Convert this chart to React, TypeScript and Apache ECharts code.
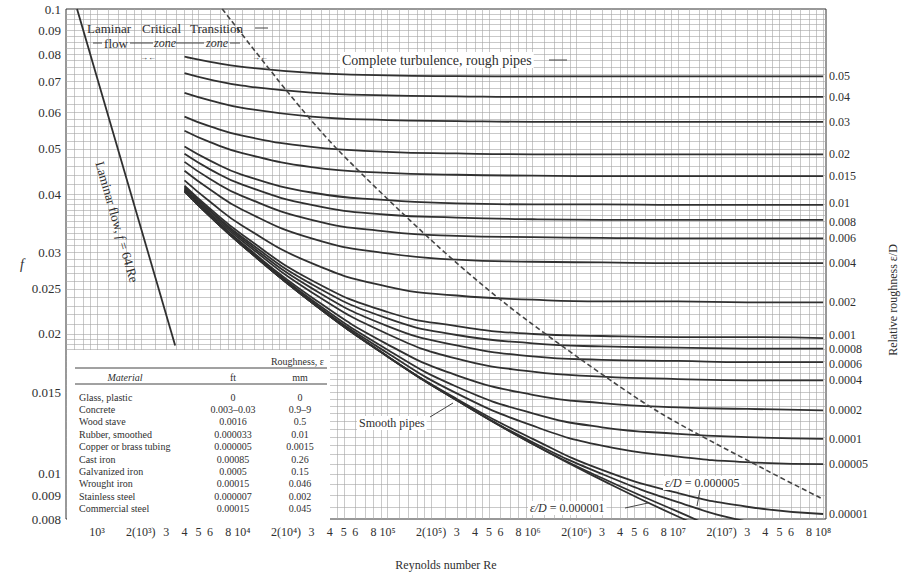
import React, { useEffect, useRef } from 'react';
import * as echarts from 'echarts';

// ---------- data ----------
const reynolds = [4000, 6000, 1e4, 3e4, 1e5, 3e5, 1e6, 3e6, 1e7, 3e7, 1e8];

const f_0_05 = [0.0790, 0.0770, 0.0751, 0.0729, 0.0720, 0.0717, 0.0716, 0.0716, 0.0716, 0.0716, 0.0716];
const f_0_04 = [0.0728, 0.0705, 0.0684, 0.0661, 0.0652, 0.0649, 0.0647, 0.0647, 0.0647, 0.0647, 0.0647];
const f_0_03 = [0.0660, 0.0636, 0.0613, 0.0587, 0.0577, 0.0574, 0.0572, 0.0572, 0.0572, 0.0572, 0.0572];
const f_0_02 = [0.0587, 0.0559, 0.0534, 0.0505, 0.0493, 0.0489, 0.0487, 0.0487, 0.0487, 0.0487, 0.0487];
const f_0_015 = [0.0547, 0.0517, 0.0490, 0.0457, 0.0444, 0.0440, 0.0438, 0.0437, 0.0437, 0.0437, 0.0437];
const f_0_01 = [0.0506, 0.0472, 0.0440, 0.0403, 0.0388, 0.0382, 0.0380, 0.0380, 0.0379, 0.0379, 0.0379];
const f_0_008 = [0.0488, 0.0452, 0.0419, 0.0379, 0.0361, 0.0356, 0.0353, 0.0352, 0.0352, 0.0352, 0.0352];
const f_0_006 = [0.0469, 0.0431, 0.0396, 0.0352, 0.0332, 0.0325, 0.0323, 0.0322, 0.0321, 0.0321, 0.0321];
const f_0_004 = [0.0449, 0.0409, 0.0370, 0.0321, 0.0298, 0.0289, 0.0286, 0.0285, 0.0284, 0.0284, 0.0284];
const f_0_002 = [0.0428, 0.0385, 0.0342, 0.0284, 0.0253, 0.0242, 0.0237, 0.0235, 0.0235, 0.0234, 0.0234];
const f_0_001 = [0.0417, 0.0372, 0.0327, 0.0261, 0.0223, 0.0208, 0.0200, 0.0198, 0.0197, 0.0197, 0.0196];
const f_0_0008 = [0.0415, 0.0369, 0.0323, 0.0256, 0.0216, 0.0199, 0.0191, 0.0188, 0.0187, 0.0186, 0.0186];
const f_0_0006 = [0.0412, 0.0367, 0.0320, 0.0251, 0.0208, 0.0189, 0.0179, 0.0176, 0.0175, 0.0174, 0.0174];
const f_0_0004 = [0.0410, 0.0364, 0.0317, 0.0246, 0.0200, 0.0177, 0.0166, 0.0162, 0.0160, 0.0159, 0.0159];
const f_0_0002 = [0.0408, 0.0361, 0.0313, 0.0240, 0.0190, 0.0163, 0.0148, 0.0142, 0.0139, 0.0138, 0.0137];
const f_0_0001 = [0.0407, 0.0360, 0.0312, 0.0237, 0.0185, 0.0154, 0.0135, 0.0126, 0.0122, 0.0120, 0.0119];
const f_0_00005 = [0.0406, 0.0359, 0.0311, 0.0235, 0.0182, 0.0149, 0.0127, 0.0115, 0.0109, 0.0106, 0.0105];
const f_0_00001 = [0.0406, 0.0358, 0.0310, 0.0234, 0.0179, 0.0145, 0.0119, 0.0102, 0.0091, 0.0085, 0.0082];
const f_0_000005 = [0.0406, 0.0358, 0.0310, 0.0234, 0.0179, 0.0144, 0.0117, 0.0100, 0.0087, 0.0079, 0.0075];
const f_0_000001 = [0.0406, 0.0358, 0.0310, 0.0234, 0.0179, 0.0144, 0.0116, 0.0098, 0.0083, 0.0072, 0.0066];
const f_smooth = [0.0406, 0.0358, 0.0310, 0.0234, 0.0179, 0.0144, 0.0116, 0.0097, 0.0081, 0.0070, 0.0060];

const roughnessNames = ['0.05', '0.04', '0.03', '0.02', '0.015', '0.01', '0.008', '0.006', '0.004', '0.002', '0.001', '0.0008', '0.0006', '0.0004', '0.0002', '0.0001', '0.00005', '0.00001', '0.000005', '0.000001', 'smooth'];
const roughnessCurves = [f_0_05, f_0_04, f_0_03, f_0_02, f_0_015, f_0_01, f_0_008, f_0_006, f_0_004, f_0_002, f_0_001, f_0_0008, f_0_0006, f_0_0004, f_0_0002, f_0_0001, f_0_00005, f_0_00001, f_0_000005, f_0_000001, f_smooth];
const labelledCurves = 18; // first 18 carry a right-hand label

const laminarRe = [728, 3450];
const laminarF = [0.1, 0.0189];

const boundaryRe = [7280, 20700, 45200, 207500, 631000, 2.25e6, 7.64e6, 4.18e7, 9.69e7];
const boundaryF = [0.1, 0.0661, 0.0499, 0.0315, 0.0234, 0.01745, 0.0135, 0.01014, 0.00887];

const xTickValues = [1e3, 2e3, 3e3, 4e3, 5e3, 6e3, 8e3, 1e4, 2e4, 3e4, 4e4, 5e4, 6e4, 8e4, 1e5, 2e5, 3e5, 4e5, 5e5, 6e5, 8e5, 1e6, 2e6, 3e6, 4e6, 5e6, 6e6, 8e6, 1e7, 2e7, 3e7, 4e7, 5e7, 6e7, 8e7, 1e8];
const xTickLabels = ['10³', '2(10³)', '3', '4', '5', '6', '8', '10⁴', '2(10⁴)', '3', '4', '5', '6', '8', '10⁵', '2(10⁵)', '3', '4', '5', '6', '8', '10⁶', '2(10⁶)', '3', '4', '5', '6', '8', '10⁷', '2(10⁷)', '3', '4', '5', '6', '8', '10⁸'];

const fTickValues = [0.1, 0.09, 0.08, 0.07, 0.06, 0.05, 0.04, 0.03, 0.025, 0.02, 0.015, 0.01, 0.009, 0.008];
const fTickLabels = ['0.1', '0.09', '0.08', '0.07', '0.06', '0.05', '0.04', '0.03', '0.025', '0.02', '0.015', '0.01', '0.009', '0.008'];

const materials = ['Glass, plastic', 'Concrete', 'Wood stave', 'Rubber, smoothed', 'Copper or brass tubing', 'Cast iron', 'Galvanized iron', 'Wrought iron', 'Stainless steel', 'Commercial steel'];
const roughnessFt = ['0', '0.003–0.03', '0.0016', '0.000033', '0.000005', '0.00085', '0.0005', '0.00015', '0.000007', '0.00015'];
const roughnessMm = ['0', '0.9–9', '0.5', '0.01', '0.0015', '0.26', '0.15', '0.046', '0.002', '0.045'];

// ---------- helpers ----------
const FONT = '"Liberation Serif", "Times New Roman", serif';
const INK = '#2f2f2f';
const L = (v: number) => Math.log10(v);

const gridMantissas = [1, 1.2, 1.4, 1.6, 1.8, 2, 2.5, 3, 3.5, 4, 4.5, 5, 6, 7, 8, 9];
const X_MIN = 2.786;
const X_MAX = 8.02;
const Y_MIN = L(0.008);
const Y_MAX = -1;

function buildXGrid(): number[] {
  const out: number[] = [];
  for (let d = 2; d <= 8; d++) {
    for (const m of gridMantissas) {
      const v = L(m * Math.pow(10, d));
      if (v > X_MIN + 1e-6 && v < X_MAX - 1e-6) out.push(v);
    }
  }
  return out;
}
function buildYGrid(): number[] {
  const out: number[] = [];
  const ranges: [number, number, number][] = [
    [0.0085, 0.02, 0.0005],
    [0.021, 0.04, 0.001],
    [0.042, 0.06, 0.002],
    [0.0625, 0.0975, 0.0025],
  ];
  for (const [a, b, s] of ranges) {
    const n = Math.round((b - a) / s);
    for (let i = 0; i <= n; i++) out.push(L(a + i * s));
  }
  return out;
}

function findLabel(values: number[], labels: string[], v: number): string {
  for (let i = 0; i < values.length; i++) {
    if (Math.abs(L(values[i]) - v) < 1e-7) return labels[i];
  }
  return '';
}

const endLabelOffset: Record<string, number> = { '0.01': -2, '0.008': 2, '0.001': -3, '0.0008': 0, '0.0006': 2 };

function txt(x: number, y: number, text: string, o: any = {}) {
  return {
    type: 'text',
    x,
    y,
    z: 30,
    rotation: o.rotation || 0,
    silent: true,
    style: {
      text,
      fill: o.fill || INK,
      font: `${o.italic ? 'italic ' : ''}${o.size || 12}px ${FONT}`,
      fontFamily: FONT,
      fontSize: o.size || 12,
      fontStyle: o.italic ? 'italic' : 'normal',
      align: o.align || 'left',
      textAlign: o.align || 'left',
      verticalAlign: 'middle',
      textVerticalAlign: 'middle',
      backgroundColor: o.bg,
      padding: o.bg ? [1, 2] : 0,
      rich: o.rich,
    },
  };
}
function seg(x1: number, y1: number, x2: number, y2: number, w = 1) {
  return { type: 'line', z: 30, silent: true, shape: { x1, y1, x2, y2 }, style: { stroke: '#444', lineWidth: w } };
}

const italicRich = { i: { fontStyle: 'italic', fontFamily: FONT, fontSize: 12, fill: INK } };

export default function App() {
  const ref = useRef<HTMLDivElement>(null);

  useEffect(() => {
    if (!ref.current) return;
    const chart = echarts.init(ref.current, null, { renderer: 'svg' });

    const curveSeries = roughnessCurves.map((vals, idx) => {
      const name = roughnessNames[idx];
      return {
        type: 'line',
        name,
        data: reynolds.map((re, i) => [L(re), L(vals[i])]),
        showSymbol: false,
        smooth: 0.5,
        silent: true,
        z: 5,
        lineStyle: { color: '#303030', width: 1.8 },
        endLabel: idx < labelledCurves
          ? {
              show: true,
              formatter: () => name,
              color: INK,
              fontFamily: FONT,
              fontSize: 12,
              distance: 6,
              offset: [0, endLabelOffset[name] || 0],
            }
          : { show: false },
      };
    });

    const laminarSeries = {
      type: 'line',
      name: 'laminar',
      data: laminarRe.map((re, i) => [L(re), L(laminarF[i])]),
      showSymbol: false,
      silent: true,
      z: 5,
      lineStyle: { color: '#303030', width: 1.8 },
    };

    const boundarySeries = {
      type: 'line',
      name: 'boundary',
      data: boundaryRe.map((re, i) => [L(re), L(boundaryF[i])]),
      showSymbol: false,
      smooth: 0.3,
      silent: true,
      z: 6,
      lineStyle: { color: '#444', width: 1.6, type: [5, 3] },
    };

    // table overlay
    const tableX0 = 75;
    const tableX1 = 327;
    const rowY0 = 397;
    const rowStep = 12.4;
    const tableEls: any[] = [
      { type: 'rect', z: 25, silent: true, shape: { x: 67, y: 350, width: 263, height: 170 }, style: { fill: '#fff' } },
      txt(324, 361, 'Roughness, ε', { size: 10, align: 'right' }),
      seg(tableX0, 368, tableX1, 368, 1),
      txt(125, 377, 'Material', { size: 10, italic: true, align: 'center' }),
      txt(233, 377, 'ft', { size: 10, align: 'center' }),
      txt(300, 377, 'mm', { size: 10, align: 'center' }),
      seg(tableX0, 384, tableX1, 384, 1),
    ];
    materials.forEach((m, i) => {
      const y = rowY0 + i * rowStep;
      tableEls.push(txt(79, y, m, { size: 10 }));
      tableEls.push(txt(233, y, roughnessFt[i], { size: 10, align: 'center' }));
      tableEls.push(txt(300, y, roughnessMm[i], { size: 10, align: 'center' }));
    });

    const annotations: any[] = [
      txt(87, 28, 'Laminar', { size: 13 }),
      txt(142, 28, 'Critical', { size: 13 }),
      txt(190, 28, 'Transition', { size: 13 }),
      seg(255, 28, 268, 28),
      txt(116, 43, 'flow', { size: 13, align: 'center' }),
      txt(165, 43, 'zone', { size: 12, italic: true, align: 'center' }),
      txt(217, 43, 'zone', { size: 12, italic: true, align: 'center' }),
      seg(93, 43, 102, 43),
      seg(130, 43, 153, 43),
      seg(176, 43, 204, 43),
      seg(230, 43, 240, 43),
      txt(148, 57, '→←', { size: 8, align: 'center' }),
      txt(189, 57, '→', { size: 8, align: 'center' }),
      txt(260, 57, '→←', { size: 8, align: 'center' }),
      txt(340, 60, 'Complete turbulence, rough pipes', { size: 14, bg: '#fff' }),
      seg(549, 60, 567, 60),
      txt(117, 222, '{n|Laminar flow, }{i|f}{n| = 64/Re}', {
        size: 13,
        align: 'center',
        rotation: -1.29,
        rich: {
          n: { fontFamily: FONT, fontSize: 13, fill: INK },
          i: { fontFamily: FONT, fontSize: 13, fontStyle: 'italic', fill: INK },
        },
      }),
      txt(357, 423, 'Smooth pipes', { size: 12, bg: '#fff' }),
      seg(430, 417, 453, 403),
      txt(663, 483, '{i|ε/D} = 0.000005', { size: 12, bg: '#fff', rich: italicRich }),
      seg(700, 490, 697, 506),
      txt(528, 508, '{i|ε/D} = 0.000001', { size: 12, bg: '#fff', rich: italicRich }),
      seg(625, 508, 648, 503),
      txt(893, 300, 'Relative roughness ε/D', { size: 12, align: 'center', rotation: Math.PI / 2 }),
    ];

    const option: any = {
      animation: false,
      backgroundColor: '#fff',
      textStyle: { fontFamily: FONT },
      grid: { left: 66, right: 79, top: 9, bottom: 55, show: true, borderColor: '#333', borderWidth: 1, backgroundColor: 'transparent' },
      xAxis: {
        type: 'value',
        min: X_MIN,
        max: X_MAX,
        axisLine: { show: false },
        axisTick: { show: false, customValues: buildXGrid() },
        splitLine: { show: true, lineStyle: { color: '#a5a5a5', width: 0.6 } },
        axisLabel: {
          customValues: xTickValues.map(L),
          formatter: (v: number) => findLabel(xTickValues, xTickLabels, v),
          fontFamily: FONT,
          fontSize: 12,
          color: INK,
          margin: 7,
          hideOverlap: false,
        },
        name: 'Reynolds number Re',
        nameLocation: 'middle',
        nameGap: 40,
        nameTextStyle: { fontFamily: FONT, fontSize: 12, color: INK },
      },
      yAxis: {
        type: 'value',
        min: Y_MIN,
        max: Y_MAX,
        axisLine: { show: false },
        axisTick: { show: false, customValues: buildYGrid() },
        splitLine: { show: true, lineStyle: { color: '#a5a5a5', width: 0.6 } },
        axisLabel: {
          customValues: fTickValues.map(L),
          formatter: (v: number) => findLabel(fTickValues, fTickLabels, v),
          fontFamily: FONT,
          fontSize: 13,
          color: INK,
          margin: 5,
        },
        name: 'f',
        nameLocation: 'middle',
        nameRotate: 0,
        nameGap: 42,
        nameTextStyle: { fontFamily: FONT, fontSize: 14, fontStyle: 'italic', color: INK },
      },
      series: [...curveSeries, laminarSeries, boundarySeries],
      graphic: [...annotations, ...tableEls],
    };

    chart.setOption(option);
    return () => chart.dispose();
  }, []);

  return (
    <div
      ref={ref}
      style={{ position: 'absolute', left: 0, top: 0, width: 905, height: 576, background: '#fff' }}
    />
  );
}
